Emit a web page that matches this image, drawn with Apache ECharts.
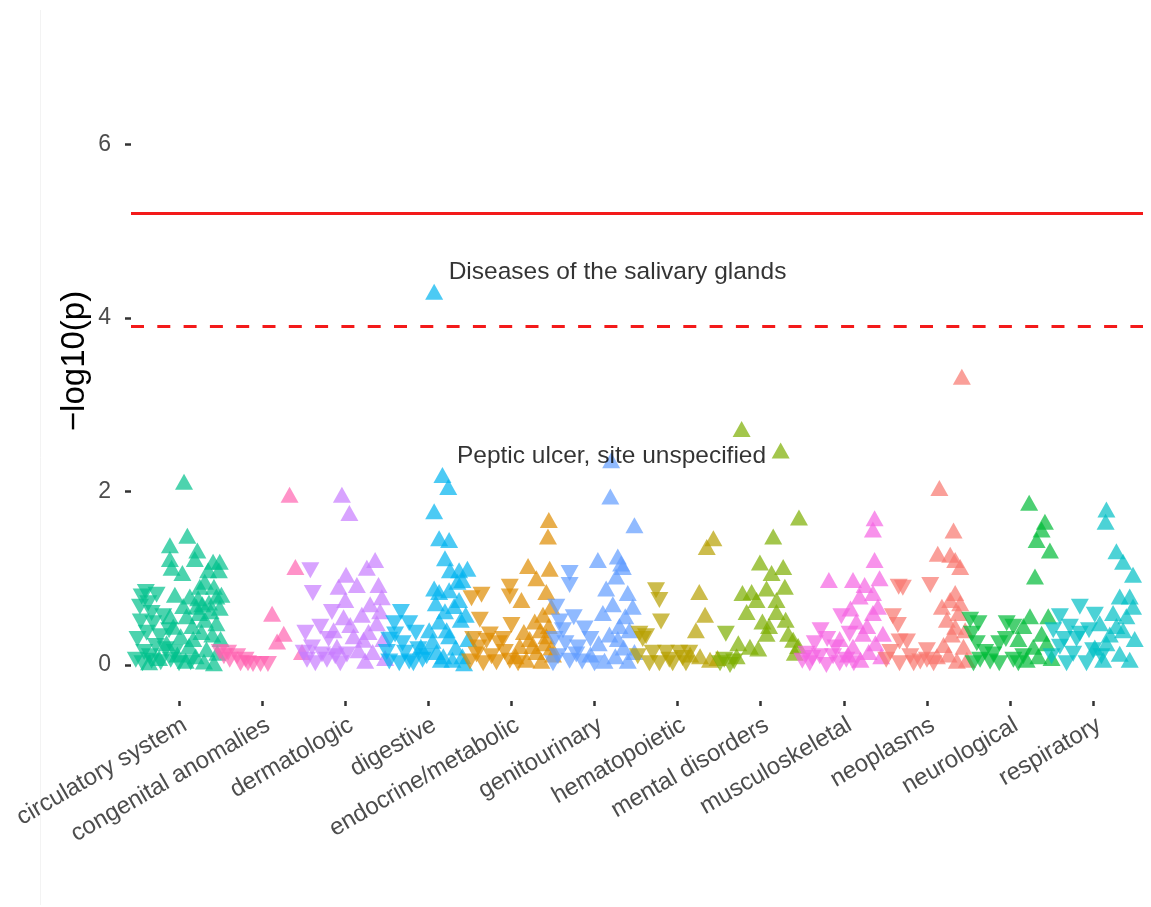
<!DOCTYPE html>
<html>
<head>
<meta charset="utf-8">
<script src="https://cdn.jsdelivr.net/npm/echarts@6/dist/echarts.min.js"></script>
<style>
  html, body { margin: 0; padding: 0; background: #ffffff; }
  #chart { width: 1151px; height: 907px; }
</style>
</head>
<body>
<div id="chart"></div>
<script>
// Phenotype groups, in axis order
const categories = [
  'circulatory system', 'congenital anomalies', 'dermatologic', 'digestive',
  'endocrine/metabolic', 'genitourinary', 'hematopoietic', 'mental disorders',
  'musculoskeletal', 'neoplasms', 'neurological', 'respiratory'
];
const groupColors = [
  '#00C08B', '#FF64B0', '#C77CFF', '#00B4F0', '#DE8C00', '#619CFF',
  '#B79F00', '#7CAE00', '#F564E3', '#F8766D', '#00BA38', '#00BFC4'
];

// Each phenotype: [position within its group, -log10(p), direction of effect (1 up / -1 down)]
const circulatory = [
  [0.06,2.11,1],[-0.11,1.38,1],[0.10,1.49,1],[0.22,1.32,1],[-0.11,1.22,1],[0.19,1.22,1],[-0.09,1.12,1],
  [0.04,1.06,1],[0.41,1.19,1],[0.49,1.19,1],[0.48,1.09,1],[0.35,1.09,1],[0.31,0.96,1],[0.25,0.90,1],
  [-0.05,0.81,1],[0.13,0.79,1],[0.23,0.77,1],[0.45,0.79,1],[0.51,0.81,1],[0.49,0.66,1],[0.21,0.67,1],
  [-0.11,0.56,1],[0.09,0.56,1],[0.31,0.52,1],[0.45,0.48,1],[-0.07,0.44,1],[0.38,0.62,1],[0.28,0.70,1],
  [0.42,0.90,1],[0.36,0.72,1],[0.16,0.45,1],[0.02,0.33,1],[0.27,0.38,1],[0.40,0.35,1],[0.50,0.30,1],
  [-0.15,0.25,1],[0.12,0.22,1],[0.33,0.18,1],[-0.02,0.12,1],[0.20,0.10,1],[0.46,0.14,1],[-0.24,0.08,1],
  [0.08,0.05,1],[0.30,0.04,1],[-0.36,0.03,1],[0.42,0.02,1],[0.24,0.60,1],[0.05,0.68,1],[0.17,0.30,1],
  [-0.40,0.84,-1],[-0.27,0.81,-1],[-0.45,0.79,-1],[-0.47,0.67,-1],[-0.37,0.71,-1],[-0.46,0.50,-1],
  [-0.31,0.48,-1],[-0.19,0.56,-1],[-0.39,0.37,-1],[-0.23,0.33,-1],[-0.33,0.60,-1],[-0.12,0.40,-1],
  [-0.50,0.30,-1],[-0.28,0.22,-1],[-0.42,0.15,-1],[-0.16,0.18,-1],[-0.52,0.06,-1],[-0.44,0.02,-1],
  [-0.33,0.05,-1],[-0.22,0.03,-1],[-0.10,0.06,-1],[0.00,0.02,-1],[-0.05,0.15,-1],[-0.35,0.10,-1],[0.14,0.03,-1]
];
const congenital = [
  [-0.51,0.15,-1],[-0.41,0.14,-1],[-0.30,0.10,-1],[-0.26,0.02,-1],[-0.17,0.02,-1],[-0.11,0.01,-1],
  [-0.02,0.01,-1],[0.07,0.01,-1],[-0.39,0.06,-1],[-0.20,0.06,-1],[-0.46,0.10,-1],
  [0.33,1.96,1],[0.40,1.13,1],[0.12,0.59,1],[0.26,0.36,1],[0.18,0.27,1],[0.48,0.15,1]
];
const dermatologic = [
  [-0.04,1.96,1],[0.05,1.75,1],[0.01,1.04,1],[0.26,1.12,1],[0.14,0.92,1],[-0.08,0.90,1],[0.00,0.75,1],
  [0.36,1.21,1],[0.06,0.46,1],[0.22,0.29,1],[0.16,0.17,1],[-0.10,0.21,1],[0.30,0.70,1],[0.42,0.62,1],
  [0.38,0.48,1],[0.20,0.58,1],[-0.02,0.55,1],[0.28,0.38,1],[0.46,0.30,1],[0.10,0.33,1],[0.33,0.15,1],
  [0.48,0.08,1],[0.24,0.05,1],[-0.14,0.40,1],[0.40,0.92,1],[0.44,0.78,1],
  [-0.42,1.09,-1],[-0.39,0.83,-1],[-0.16,0.61,-1],[-0.48,0.37,-1],[-0.30,0.44,-1],[-0.46,0.06,-1],
  [-0.22,0.06,-1],[-0.06,0.02,-1],[-0.36,0.02,-1],[-0.28,0.12,-1],[-0.12,0.10,-1],[-0.40,0.20,-1],
  [-0.20,0.30,-1],[0.02,0.12,-1],[-0.50,0.14,-1]
];
const digestive = [
  [0.07,4.30,1],[0.17,2.19,1],[0.24,2.05,1],[0.07,1.77,1],[0.13,1.46,1],[0.25,1.44,1],[0.20,1.23,1],
  [0.26,1.09,1],[0.37,1.09,1],[0.47,1.11,1],[0.07,0.88,1],[0.13,0.84,1],[0.25,0.86,1],[0.35,0.96,1],
  [0.41,0.98,1],[0.09,0.71,1],[0.37,0.75,1],[0.13,0.50,1],[0.39,0.52,1],[0.45,0.58,1],[0.01,0.40,1],
  [0.25,0.33,1],[0.15,0.06,1],[0.29,0.06,1],[0.41,0.10,1],[-0.09,0.21,1],[0.20,0.62,1],[0.31,0.68,1],
  [0.05,0.28,1],[0.33,0.20,1],[0.48,0.30,1],[0.10,0.15,1],[0.22,0.40,1],[0.43,0.02,1],[0.18,0.10,1],
  [-0.33,0.61,-1],[-0.41,0.48,-1],[-0.23,0.48,-1],[-0.47,0.29,-1],[-0.31,0.25,-1],[-0.15,0.37,-1],
  [-0.47,0.04,-1],[-0.35,0.02,-1],[-0.23,0.04,-1],[-0.07,0.06,-1],[-0.50,0.15,-1],[-0.28,0.14,-1],
  [-0.12,0.18,-1],[-0.40,0.35,-1],[-0.18,0.02,-1],[-0.02,0.10,-1]
];
const endocrine = [
  [0.45,1.67,1],[0.44,1.48,1],[0.20,1.14,1],[0.46,1.11,1],[0.30,1.00,1],[0.42,0.84,1],[0.12,0.75,1],
  [0.48,0.67,1],[0.28,0.50,1],[0.38,0.58,1],[0.35,0.40,1],[0.45,0.45,1],[0.22,0.30,1],[0.40,0.25,1],
  [0.10,0.22,1],[0.30,0.15,1],[0.48,0.20,1],[0.05,0.10,1],[0.18,0.06,1],[0.36,0.05,1],[0.25,0.22,1],
  [0.42,0.33,1],[0.15,0.38,1],[0.50,0.12,1],
  [-0.02,0.90,-1],[-0.36,0.81,-1],[-0.48,0.77,-1],[-0.02,0.79,-1],[-0.38,0.52,-1],[0.00,0.46,-1],
  [-0.46,0.30,-1],[-0.30,0.28,-1],[-0.15,0.25,-1],[-0.42,0.12,-1],[-0.24,0.10,-1],[-0.08,0.15,-1],
  [-0.50,0.04,-1],[-0.34,0.02,-1],[-0.18,0.03,-1],[-0.02,0.05,-1],[-0.26,0.35,-1],[-0.10,0.30,-1],
  [0.08,0.02,-1],[-0.40,0.20,-1]
];
const genitourinary = [
  [0.20,2.36,1],[0.19,1.94,1],[0.48,1.61,1],[0.04,1.21,1],[0.28,1.25,1],[0.34,1.13,1],[0.26,1.02,1],
  [0.14,0.88,1],[0.32,1.17,1],[0.40,0.83,1],[0.46,0.67,1],[0.37,0.56,1],[0.42,0.40,1],[0.10,0.60,1],
  [0.22,0.70,1],[0.30,0.45,1],[0.18,0.35,1],[0.05,0.25,1],[0.35,0.20,1],[0.48,0.15,1],[0.25,0.10,1],
  [0.12,0.05,1],[0.40,0.05,1],[-0.05,0.12,1],[0.28,0.30,1],
  [-0.30,1.06,-1],[-0.30,0.92,-1],[-0.46,0.67,-1],[-0.42,0.50,-1],[-0.25,0.55,-1],[-0.12,0.42,-1],
  [-0.48,0.30,-1],[-0.35,0.25,-1],[-0.20,0.20,-1],[-0.05,0.30,-1],[-0.44,0.10,-1],[-0.30,0.05,-1],
  [-0.15,0.04,-1],[0.00,0.02,-1],[-0.38,0.40,-1],[-0.50,0.02,-1],[-0.22,0.12,-1]
];
const hematopoietic = [
  [0.43,1.46,1],[0.35,1.36,1],[0.26,0.84,1],[0.33,0.58,1],[0.22,0.40,1],[0.27,0.10,1],[0.39,0.06,1],
  [0.48,0.08,1],[0.15,0.12,1],
  [-0.26,0.86,-1],[-0.22,0.75,-1],[-0.20,0.50,-1],[-0.46,0.36,-1],[-0.38,0.33,-1],[-0.30,0.14,-1],
  [-0.14,0.14,-1],[0.02,0.14,-1],[0.14,0.14,-1],[-0.34,0.02,-1],[-0.22,0.02,-1],[-0.06,0.02,-1],
  [0.10,0.02,-1],[-0.48,0.10,-1],[-0.42,0.30,-1],[0.06,0.08,-1],[-0.10,0.06,-1]
];
const mental = [
  [-0.23,2.72,1],[0.24,2.47,1],[0.46,1.70,1],[0.15,1.48,1],[-0.01,1.18,1],[0.27,1.13,1],[0.13,1.06,1],
  [0.07,0.88,1],[0.29,0.90,1],[-0.22,0.83,1],[-0.11,0.84,1],[-0.05,0.75,1],[0.19,0.75,1],[-0.17,0.61,1],
  [0.19,0.61,1],[-0.27,0.25,1],[-0.13,0.21,1],[-0.03,0.19,1],[0.07,0.36,1],[0.33,0.36,1],[0.39,0.29,1],
  [0.41,0.14,1],[-0.29,0.10,1],[0.10,0.45,1],[0.45,0.22,1],[0.02,0.50,1],[0.30,0.52,1],
  [-0.42,0.36,-1],[-0.49,0.02,-1],[-0.37,0.00,-1],[-0.44,0.06,-1],[-0.32,0.04,-1]
];
const musculoskeletal = [
  [0.37,1.69,1],[0.35,1.56,1],[0.37,1.21,1],[0.11,0.98,1],[0.43,1.00,1],[0.19,0.79,1],[0.35,0.83,1],
  [0.35,0.60,1],[0.41,0.67,1],[0.47,0.36,1],[0.23,0.36,1],[0.11,0.21,1],[0.28,0.45,1],[0.15,0.50,1],
  [-0.05,0.30,1],[0.30,0.15,1],[0.45,0.10,1],[0.20,0.06,1],[0.38,0.25,1],[0.05,0.12,1],[-0.18,0.98,1],
  [0.25,0.92,1],[0.08,0.65,1],
  [-0.03,0.56,-1],[0.07,0.36,-1],[-0.45,0.13,-1],[-0.29,0.10,-1],[-0.13,0.10,-1],[0.03,0.06,-1],
  [-0.41,0.02,-1],[-0.21,0.00,-1],[-0.05,0.02,-1],[-0.35,0.25,-1],[-0.20,0.30,-1],[-0.50,0.05,-1],
  [-0.28,0.40,-1],[-0.10,0.20,-1],[0.12,0.02,-1],[-0.38,0.08,-1]
];
const neoplasms = [
  [0.42,3.32,1],[0.15,2.04,1],[0.32,1.55,1],[0.13,1.28,1],[0.28,1.27,1],[0.34,1.21,1],[0.40,1.13,1],
  [0.34,0.83,1],[0.28,0.75,1],[0.40,0.71,1],[0.18,0.67,1],[0.24,0.52,1],[0.34,0.44,1],[0.44,0.21,1],
  [0.48,0.06,1],[0.12,0.10,1],[0.20,0.23,1],[0.38,0.60,1],[0.30,0.35,1],[0.46,0.40,1],[0.26,0.12,1],
  [0.36,0.05,1],
  [0.04,0.92,-1],[-0.34,0.90,-1],[-0.29,0.89,-1],[-0.41,0.56,-1],[-0.35,0.46,-1],[-0.33,0.27,-1],
  [-0.24,0.27,-1],[0.00,0.17,-1],[-0.49,0.06,-1],[-0.33,0.02,-1],[-0.16,0.02,-1],[0.00,0.06,-1],
  [-0.44,0.15,-1],[-0.20,0.10,-1],[-0.08,0.04,-1],[0.08,0.02,-1]
];
const neurological = [
  [0.23,1.87,1],[0.42,1.65,1],[0.38,1.56,1],[0.32,1.44,1],[0.48,1.32,1],[0.30,1.02,1],[0.24,0.56,1],
  [0.38,0.36,1],[0.46,0.56,1],[0.28,0.21,1],[0.16,0.45,1],[0.44,0.25,1],[0.34,0.10,1],[0.20,0.06,1],
  [0.50,0.08,1],[0.10,0.30,1],
  [-0.48,0.52,-1],[-0.38,0.48,-1],[-0.46,0.36,-1],[-0.40,0.25,-1],[-0.04,0.48,-1],[0.04,0.44,-1],
  [-0.13,0.25,-1],[-0.36,0.06,-1],[-0.24,0.04,-1],[-0.13,0.02,-1],[0.04,0.06,-1],[0.16,0.10,-1],
  [-0.30,0.15,-1],[-0.05,0.30,-1],[-0.20,0.12,-1],[-0.44,0.02,-1],[0.10,0.02,-1]
];
const respiratory = [
  [0.16,1.79,1],[0.15,1.65,1],[0.28,1.31,1],[0.36,1.19,1],[0.48,1.04,1],[0.32,0.79,1],[0.44,0.79,1],
  [0.48,0.67,1],[0.40,0.56,1],[0.24,0.60,1],[0.08,0.48,1],[0.16,0.25,1],[0.32,0.13,1],[0.44,0.06,1],
  [0.12,0.06,1],[0.36,0.40,1],[0.20,0.35,1],[0.50,0.30,1],[0.28,0.45,1],[0.02,0.20,1],
  [-0.16,0.67,-1],[0.02,0.58,-1],[-0.40,0.56,-1],[-0.28,0.44,-1],[-0.48,0.40,-1],[-0.16,0.36,-1],
  [-0.40,0.21,-1],[-0.24,0.13,-1],[0.00,0.17,-1],[-0.32,0.02,-1],[-0.08,0.02,-1],[-0.50,0.10,-1],
  [-0.20,0.30,-1],[-0.05,0.40,-1],[-0.35,0.30,-1],[0.10,0.10,-1]
];
const groupPoints = [
  circulatory, congenital, dermatologic, digestive, endocrine, genitourinary,
  hematopoietic, mental, musculoskeletal, neoplasms, neurological, respiratory
];

// Axis ticks and threshold lines
const yTicks = [0, 2, 4, 6];
const significanceLine = 5.2;
const suggestiveLine = 3.9;

// Labelled phenotypes: [group index, position within group, -log10(p), name]
const annotations = [
  [3, 0.07, 4.30, 'Diseases of the salivary glands'],
  [3, 0.17, 2.19, 'Peptic ulcer, site unspecified']
];

const FONT = '"Liberation Sans", Arial, Helvetica, sans-serif';

const series = groupPoints.map((pts, g) => ({
  type: 'scatter',
  name: categories[g],
  symbol: 'triangle',
  symbolSize: [18, 16],
  itemStyle: { color: groupColors[g], opacity: 0.7 },
  emphasis: { disabled: true },
  data: pts.map(p => ({
    value: [g + p[0], p[1]],
    symbolRotate: p[2] < 0 ? 180 : 0
  }))
}));

// Threshold lines
series.push({
  type: 'scatter',
  data: [],
  silent: true,
  markLine: {
    silent: true,
    symbol: 'none',
    label: { show: false },
    animation: false,
    data: [
      { yAxis: significanceLine, lineStyle: { color: '#F31A1A', width: 3, type: 'solid' } },
      { yAxis: suggestiveLine, lineStyle: { color: '#F31A1A', width: 3, type: [13, 13.3] } }
    ]
  }
});

// Text labels for the named phenotypes
series.push({
  type: 'scatter',
  symbolSize: 1,
  itemStyle: { color: 'rgba(0,0,0,0)' },
  silent: true,
  z: 10,
  label: {
    show: true,
    position: 'right',
    distance: 14,
    offset: [0, -19],
    color: '#000000',
    fontSize: 24.5,
    fontFamily: FONT,
    formatter: p => p.data.name
  },
  data: annotations.map(a => ({ value: [a[0] + a[1], a[2]], name: a[3] }))
});

const ticksX = categories.map((c, i) => i);

const chart = echarts.init(document.getElementById('chart'), null, { renderer: 'canvas' });
chart.setOption({
  animation: false,
  backgroundColor: '#ffffff',
  graphic: [{
    // thin frame edge along the left side of the figure
    type: 'line',
    silent: true,
    shape: { x1: 40.5, y1: 10, x2: 40.5, y2: 905 },
    style: { stroke: '#f3f3f3', lineWidth: 1 }
  }],
  grid: { left: 131, right: 8, top: 21, bottom: 206, containLabel: false },
  xAxis: {
    type: 'value',
    min: -0.578,
    max: 11.6,
    axisLine: { show: false, onZero: false },
    splitLine: { show: false },
    axisTick: {
      show: true,
      customValues: ticksX,
      length: 5,
      lineStyle: { color: '#333333', width: 2.5 }
    },
    axisLabel: {
      customValues: ticksX,
      formatter: v => categories[Math.round(v)],
      rotate: 30,
      align: 'right',
      verticalAlign: 'top',
      fontSize: 24,
      color: '#4d4d4d',
      fontFamily: FONT,
      margin: 12
    }
  },
  yAxis: {
    type: 'value',
    min: -0.415,
    max: 7.419,
    name: '\u2212log10(p)',
    nameLocation: 'middle',
    nameGap: 40,
    nameMoveOverlap: false,
    nameRotate: 90,
    nameTextStyle: { fontSize: 33, color: '#000000', fontFamily: FONT },
    axisLine: { show: false, onZero: false },
    splitLine: { show: false },
    axisTick: {
      show: true,
      customValues: yTicks,
      length: 6,
      lineStyle: { color: '#333333', width: 2.5 }
    },
    axisLabel: {
      customValues: yTicks,
      fontSize: 23,
      color: '#4d4d4d',
      fontFamily: FONT,
      margin: 20
    }
  },
  series: series
});
</script>
</body>
</html>
